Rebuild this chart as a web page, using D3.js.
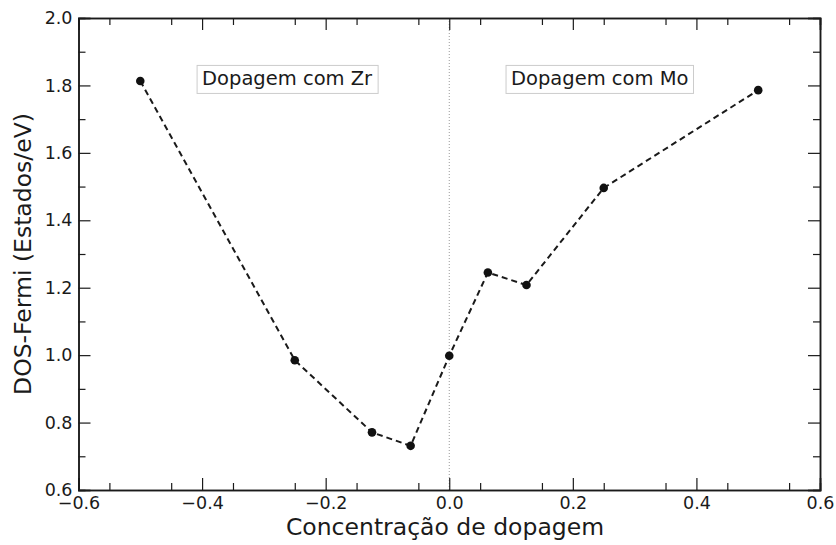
<!DOCTYPE html>
<html>
<head>
<meta charset="utf-8">
<script src="https://cdn.jsdelivr.net/npm/d3@7"></script>
<style>
  body { margin: 0; background: #fff; }
  svg { font-family: "DejaVu Sans", sans-serif; }
</style>
</head>
<body>
<div id="chart"></div>
<script>
// doping concentration (negative = Zr, positive = Mo)
const concentration = [-0.5, -0.25, -0.125, -0.0625, 0, 0.0625, 0.125, 0.25, 0.5]
const dosFermi = [1.813, 0.985, 0.771, 0.731, 0.998, 1.245, 1.208, 1.496, 1.786]

const xTicks = [-0.6, -0.4, -0.2, 0.0, 0.2, 0.4, 0.6]
const yTicks = [0.6, 0.8, 1.0, 1.2, 1.4, 1.6, 1.8, 2.0]
const xMinor = d3.range(-0.55, 0.6, 0.1)
const yMinor = d3.range(0.7, 2.0, 0.2)

const labels = ["Dopagem com Zr", "Dopagem com Mo"]
const labelX = [-0.4, 0.1]
const labelY = [1.8, 1.8]

const W = 836, H = 545
const M = { left: 78.5, right: 820, top: 18, bottom: 490 }

const svg = d3.select("#chart").append("svg")
    .attr("width", W)
    .attr("height", H)

const x = d3.scaleLinear().domain([-0.6, 0.6]).range([M.left, M.right])
const y = d3.scaleLinear().domain([0.6, 2.0]).range([M.bottom, M.top])

const fmt = d3.format(".1f")
const ink = "#1a1a1a"

// vertical dotted line at zero
svg.append("line")
    .attr("x1", x(0)).attr("x2", x(0))
    .attr("y1", y(2.0)).attr("y2", y(0.6))
    .attr("stroke", "#999")
    .attr("stroke-width", 1)
    .attr("stroke-dasharray", "1,2")

// axes: major ticks inward with labels on bottom/left
function styleAxis(g) {
    g.select(".domain").attr("stroke", ink).attr("stroke-width", 1.5)
    g.selectAll(".tick line").attr("stroke", ink).attr("stroke-width", 1.2)
    g.selectAll(".tick text").attr("fill", ink).style("font-size", "17.5px")
        .style("font-family", "DejaVu Sans")
}

svg.append("g")
    .attr("transform", `translate(0,${M.bottom})`)
    .call(d3.axisBottom(x).tickValues(xTicks).tickFormat(fmt).tickSize(-12).tickPadding(7))
    .call(styleAxis)
svg.append("g")
    .attr("transform", `translate(0,${M.bottom})`)
    .call(d3.axisBottom(x).tickValues(xMinor).tickFormat("").tickSize(-7))
    .call(styleAxis)
svg.append("g")
    .attr("transform", `translate(0,${M.top})`)
    .call(d3.axisTop(x).tickValues(xTicks).tickFormat("").tickSize(-12))
    .call(styleAxis)
svg.append("g")
    .attr("transform", `translate(0,${M.top})`)
    .call(d3.axisTop(x).tickValues(xMinor).tickFormat("").tickSize(-7))
    .call(styleAxis)

svg.append("g")
    .attr("transform", `translate(${M.left},0)`)
    .call(d3.axisLeft(y).tickValues(yTicks).tickFormat(fmt).tickSize(-12).tickPadding(6))
    .call(styleAxis)
svg.append("g")
    .attr("transform", `translate(${M.left},0)`)
    .call(d3.axisLeft(y).tickValues(yMinor).tickFormat("").tickSize(-7))
    .call(styleAxis)
svg.append("g")
    .attr("transform", `translate(${M.right},0)`)
    .call(d3.axisRight(y).tickValues(yTicks).tickFormat("").tickSize(-12))
    .call(styleAxis)
svg.append("g")
    .attr("transform", `translate(${M.right},0)`)
    .call(d3.axisRight(y).tickValues(yMinor).tickFormat("").tickSize(-7))
    .call(styleAxis)

// dashed line + markers
const pts = concentration.map((c, i) => [c, dosFermi[i]])
svg.append("path")
    .datum(pts)
    .attr("fill", "none")
    .attr("stroke", ink)
    .attr("stroke-width", 2)
    .attr("stroke-dasharray", "6,4")
    .attr("d", d3.line().x(d => x(d[0])).y(d => y(d[1])))

svg.selectAll("circle.pt")
    .data(pts)
    .join("circle")
    .attr("class", "pt")
    .attr("cx", d => x(d[0]))
    .attr("cy", d => y(d[1]))
    .attr("r", 4.3)
    .attr("fill", "#111")

// annotation boxes
labels.forEach((t, i) => {
    const g = svg.append("g")
    const txt = g.append("text")
        .attr("x", x(labelX[i]))
        .attr("y", y(labelY[i]))
        .attr("fill", ink)
        .style("font-size", "19.5px")
        .text(t)
    const bb = txt.node().getBBox()
    g.insert("rect", "text")
        .attr("x", bb.x - 5)
        .attr("y", y(labelY[i]) - 20)
        .attr("width", bb.width + 10)
        .attr("height", 28)
        .attr("fill", "#fff")
        .attr("stroke", "#ccc")
        .attr("stroke-width", 1)
})

// axis titles
svg.append("text")
    .attr("x", 445)
    .attr("y", 535)
    .attr("text-anchor", "middle")
    .attr("fill", ink)
    .style("font-size", "23.5px")
    .text("Concentração de dopagem")

svg.append("text")
    .attr("transform", `translate(31,${(M.top + M.bottom) / 2}) rotate(-90)`)
    .attr("text-anchor", "middle")
    .attr("fill", ink)
    .style("font-size", "23.5px")
    .text("DOS-Fermi (Estados/eV)")
</script>
</body>
</html>
